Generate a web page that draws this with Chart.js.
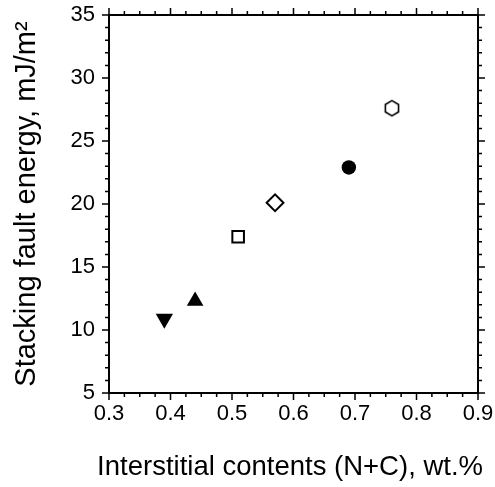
<!DOCTYPE html>
<html>
<head>
<meta charset="utf-8">
<script src="https://cdn.jsdelivr.net/npm/chart.js@4/dist/chart.umd.min.js"></script>
<style>
  body { margin: 0; background: #fff; }
  #wrap { width: 495px; height: 487px; }
</style>
</head>
<body>
<div id="wrap"><canvas id="chart"></canvas></div>
<script>
// values
const contents = [0.39, 0.44, 0.51, 0.57, 0.69, 0.76];   // N+C, wt.%
const sfe = [10.9, 12.3, 17.4, 20.1, 22.9, 27.6];          // mJ/m2
const xTicks = [0.3, 0.4, 0.5, 0.6, 0.7, 0.8, 0.9];
const yTicks = [5, 10, 15, 20, 25, 30, 35];

const FONT = '"Liberation Sans", Arial, sans-serif';

// hexagon marker (not built into Chart.js)
function hexagon(r) {
  const c = document.createElement('canvas');
  const s = Math.ceil(r * 2 + 4);
  c.width = s; c.height = s;
  const g = c.getContext('2d');
  g.beginPath();
  for (let i = 0; i < 6; i++) {
    const a = Math.PI / 3 * i;
    const px = s / 2 + Math.sin(a) * r, py = s / 2 - Math.cos(a) * r;
    i ? g.lineTo(px, py) : g.moveTo(px, py);
  }
  g.closePath();
  g.fillStyle = '#fff';
  g.fill();
  g.lineWidth = 1.6;
  g.strokeStyle = '#000';
  g.stroke();
  return c;
}

// box round the plot with outward major / minor ticks on all sides
const frame = {
  id: 'frame',
  afterDatasetsDraw(chart) {
    const { ctx, chartArea: a, scales: { x, y } } = chart;
    ctx.save();
    ctx.strokeStyle = '#000';
    ctx.lineWidth = 1.5;
    ctx.beginPath();
    for (let i = 0; i <= 24; i++) {
      const px = x.getPixelForValue(0.3 + i * 0.025);
      const len = i % 4 === 0 ? 7 : 4;
      ctx.moveTo(px, a.bottom); ctx.lineTo(px, a.bottom + len);
      ctx.moveTo(px, a.top); ctx.lineTo(px, a.top - len);
    }
    for (let v = 5; v <= 35; v++) {
      const py = y.getPixelForValue(v);
      const len = v % 5 === 0 ? 7 : 4;
      ctx.moveTo(a.left, py); ctx.lineTo(a.left - len, py);
      ctx.moveTo(a.right, py); ctx.lineTo(a.right + len, py);
    }
    ctx.stroke();
    ctx.lineWidth = 2;
    ctx.strokeRect(a.left, a.top, a.right - a.left, a.bottom - a.top);
    ctx.restore();
  }
};

new Chart(document.getElementById('chart'), {
  type: 'scatter',
  data: {
    datasets: [{
      data: contents.map((c, i) => ({ x: c, y: sfe[i] })),
      pointStyle: ['triangle', 'triangle', 'rect', 'rectRot', 'circle', hexagon(7.6)],
      rotation: [180, 0, 0, 0, 0, 0],
      radius: [10, 9.6, 8.2, 8.4, 7.2, 8],
      hoverRadius: [10, 9.6, 8.2, 8.4, 7.2, 8],
      backgroundColor: ['#000', '#000', '#fff', '#fff', '#000', '#fff'],
      borderColor: '#000',
      borderWidth: [0, 0, 2, 2, 0, 0]
    }]
  },
  options: {
    responsive: true,
    maintainAspectRatio: false,
    animation: false,
    layout: { padding: { top: 15, right: 12, left: 0, bottom: 0 } },
    plugins: {
      legend: { display: false },
      tooltip: { enabled: false },
      title: {
        display: true,
        position: 'bottom',
        align: 'end',
        text: 'Interstitial contents (N+C), wt.%',
        color: '#000',
        font: { family: FONT, size: 27.5, weight: 'normal' },
        padding: { top: 0, bottom: 3 }
      }
    },
    scales: {
      x: {
        type: 'linear',
        min: 0.3, max: 0.9,
        afterBuildTicks: s => { s.ticks = xTicks.map(v => ({ value: v })); },
        afterFit: s => { s.height = 58; s.paddingLeft = 0; s.paddingRight = 17; },
        grid: { display: false, drawTicks: false, tickLength: 0 },
        border: { display: false },
        ticks: {
          color: '#000',
          padding: 8,
          font: { family: FONT, size: 22 },
          callback: v => v.toFixed(1)
        }
      },
      y: {
        min: 5, max: 35,
        afterBuildTicks: s => { s.ticks = yTicks.map(v => ({ value: v })); },
        afterFit: s => { s.width = 109; s.paddingTop = 0; s.paddingBottom = 0; },
        grid: { display: false, drawTicks: false, tickLength: 0 },
        border: { display: false },
        ticks: {
          color: '#000',
          padding: 14,
          font: { family: FONT, size: 22 }
        },
        title: {
          display: true,
          text: 'Stacking fault energy, mJ/m²',
          color: '#000',
          font: { family: FONT, size: 29 },
          padding: { top: 10, bottom: 0 }
        }
      }
    }
  },
  plugins: [frame]
});
</script>
</body>
</html>
